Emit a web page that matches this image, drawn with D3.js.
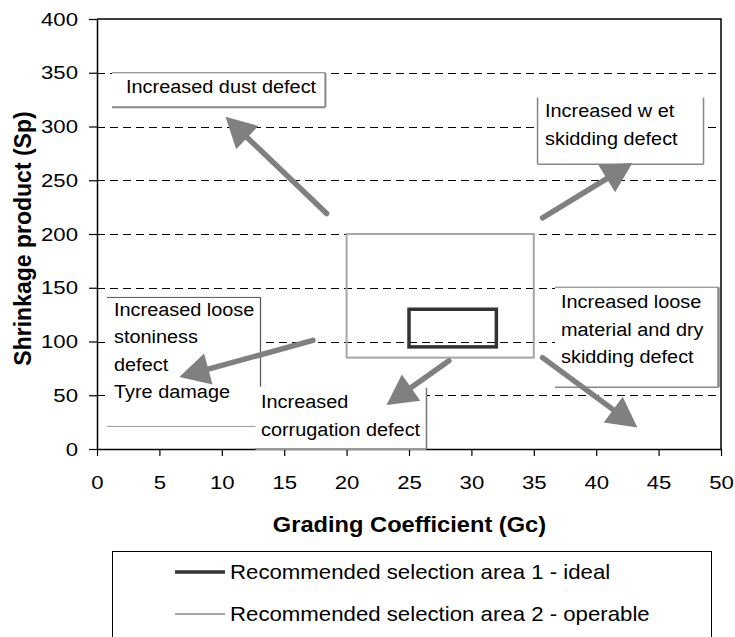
<!DOCTYPE html>
<html>
<head>
<meta charset="utf-8">
<script src="https://cdn.jsdelivr.net/npm/d3@7"></script>
<style>
  body { margin: 0; background: #fff; }
  svg { display: block; font-family: "Liberation Sans", Arial, sans-serif; }
</style>
</head>
<body>
<svg width="735" height="637"></svg>
<script>
'use strict'

// axis ticks
var xTicks = [0, 5, 10, 15, 20, 25, 30, 35, 40, 45, 50];
var yTicks = [0, 50, 100, 150, 200, 250, 300, 350, 400];
var gridValues = [50, 100, 150, 200, 250, 300, 350];

// recommended selection areas (Gc range, Sp range)
var areaNames = ["Recommended selection area 1 - ideal", "Recommended selection area 2 - operable"];
var areaGc = [[25, 32], [20, 35]];
var areaSp = [[95, 130], [85, 200]];
var areaColours = ["#333333", "#a6a6a6"];

// defect arrows: from -> to, in Gc / Sp units
var arrowFrom = [[18.4, 219], [35.7, 215], [17.3, 101], [28.2, 82], [35.7, 85]];
var arrowTo = [[10.3, 309], [42.9, 266], [6.6, 67], [23.2, 41], [43.3, 20]];

// defect text boxes: [Gc left, Gc right], [Sp top, Sp bottom]
var boxGc = [[1.2, 18.3], [35.3, 48.6], [0.8, 13.1], [12.7, 26.4], [36.7, 49.8]];
var boxSp = [[350, 318], [327, 265], [141, 21], [57, 0], [150.5, 57.5]];
var boxLines = [
  ["Increased dust defect"],
  ["Increased w et", "skidding defect"],
  ["Increased loose", "stoniness", "defect", "Tyre damage"],
  ["Increased", "corrugation defect"],
  ["Increased loose", "material and dry", "skidding defect"]
];

var svg = d3.select("svg"),
  margin = {top: 19, right: 14, bottom: 188, left: 97},
  width = +svg.attr("width") - margin.left - margin.right,
  height = +svg.attr("height") - margin.top - margin.bottom;

var x = d3.scaleLinear().domain([0, 50]).range([margin.left, margin.left + width]);
var y = d3.scaleLinear().domain([0, 400]).range([margin.top + height, margin.top]);

// the original picture is a little wider than tall, so text is widened
function stretch(sel, k) {
  sel.each(function() {
    var w = this.getComputedTextLength();
    this.setAttribute("textLength", w * k);
    this.setAttribute("lengthAdjust", "spacingAndGlyphs");
  });
}

// dashed grid
svg.append("g")
  .selectAll("line")
  .data(gridValues)
  .enter()
  .append("line")
  .attr("x1", x(0))
  .attr("x2", x(50))
  .attr("y1", function(d) { return Math.round(y(d)) + 0.5; })
  .attr("y2", function(d) { return Math.round(y(d)) + 0.5; })
  .attr("stroke", "#000")
  .attr("stroke-dasharray", "8,5");

// text boxes (white, covering the grid)
var boxes = svg.append("g").selectAll("g")
  .data(boxLines)
  .enter()
  .append("g");

boxes.append("rect")
  .attr("x", function(d, i) { return x(boxGc[i][0]); })
  .attr("y", function(d, i) { return y(boxSp[i][0]); })
  .attr("width", function(d, i) { return x(boxGc[i][1]) - x(boxGc[i][0]); })
  .attr("height", function(d, i) { return y(boxSp[i][1]) - y(boxSp[i][0]); })
  .attr("fill", "#fff");

// box borders, which sides are drawn differs from box to box
var boxSides = [
  [["top", "#777", 1], ["right", "#888", 2], ["bottom", "#888", 2]],
  [["left", "#888", 1.5], ["right", "#888", 1.5], ["bottom", "#888", 1.5]],
  [["top", "#555", 1], ["right", "#555", 1.2, 58], ["bottom", "#999", 1]],
  [["right", "#777", 1.5], ["bottom", "#999", 2]],
  [["top", "#777", 1], ["right", "#888", 2.5], ["bottom", "#888", 1.5]]
];

boxes.each(function(d, i) {
  var g = d3.select(this);
  var l = x(boxGc[i][0]), r = x(boxGc[i][1]), t = y(boxSp[i][0]), b = y(boxSp[i][1]);
  boxSides[i].forEach(function(s) {
    var c = {top: [l, t, r, t], bottom: [l, b, r, b], left: [l, t, l, b], right: [r, t, r, b]}[s[0]];
    if (s[3] !== undefined) c[3] = y(s[3]);
    g.append("line")
      .attr("x1", c[0]).attr("y1", c[1]).attr("x2", c[2]).attr("y2", c[3])
      .attr("stroke", s[1])
      .attr("stroke-width", s[2]);
  });
});

var textStart = [[126, 92.5], [545, 116.5], [114, 316], [261, 408], [561, 308]];
var lineStep = [28, 28, 27.3, 28, 27.5];

boxes.each(function(d, i) {
  d3.select(this).selectAll("text")
    .data(d)
    .enter()
    .append("text")
    .attr("x", textStart[i][0])
    .attr("y", function(t, j) { return textStart[i][1] + j * lineStep[i]; })
    .attr("font-size", 17.6)
    .attr("fill", "#000")
    .text(function(t) { return t; })
    .call(stretch, 1.13);
});

// selection areas
svg.append("g")
  .selectAll("rect")
  .data(areaNames)
  .enter()
  .append("rect")
  .attr("x", function(d, i) { return x(areaGc[i][0]); })
  .attr("y", function(d, i) { return y(areaSp[i][1]); })
  .attr("width", function(d, i) { return x(areaGc[i][1]) - x(areaGc[i][0]); })
  .attr("height", function(d, i) { return y(areaSp[i][0]) - y(areaSp[i][1]); })
  .attr("fill", "none")
  .attr("stroke", function(d, i) { return areaColours[i]; })
  .attr("stroke-width", function(d, i) { return i === 0 ? 3.5 : 2; });

// arrows
var headLen = 30, headHalf = 16;
var arrows = svg.append("g").selectAll("g")
  .data(arrowFrom)
  .enter()
  .append("g");

arrows.each(function(d, i) {
  var x0 = x(d[0]), y0 = y(d[1]), x1 = x(arrowTo[i][0]), y1 = y(arrowTo[i][1]);
  var len = Math.hypot(x1 - x0, y1 - y0);
  var ux = (x1 - x0) / len, uy = (y1 - y0) / len;
  var bx = x1 - ux * headLen, by = y1 - uy * headLen;
  var g = d3.select(this);
  g.append("line")
    .attr("x1", x0).attr("y1", y0)
    .attr("x2", bx + ux * 2).attr("y2", by + uy * 2)
    .attr("stroke", "#808080")
    .attr("stroke-width", 5.5)
    .attr("stroke-linecap", "round");
  g.append("path")
    .attr("d", "M" + x1 + "," + y1 +
      "L" + (bx - uy * headHalf) + "," + (by + ux * headHalf) +
      "L" + (bx + uy * headHalf) + "," + (by - ux * headHalf) + "Z")
    .attr("fill", "#808080");
});

// plot frame (top and right)
svg.append("path")
  .attr("d", "M" + x(0) + "," + y(400) + "H" + x(50) + "V" + y(0))
  .attr("fill", "none")
  .attr("stroke", "#000")
  .attr("stroke-width", 1.5);

var xAxis = d3.axisBottom(x).tickValues(xTicks).tickSize(7).tickSizeOuter(0).tickPadding(19);
var yAxis = d3.axisLeft(y).tickValues(yTicks).tickSize(8).tickSizeOuter(0).tickPadding(11);

var gx = svg.append("g")
  .attr("transform", "translate(0," + y(0) + ")")
  .call(xAxis);
var gy = svg.append("g")
  .attr("transform", "translate(" + x(0) + ",0)")
  .call(yAxis);

[gx, gy].forEach(function(g) {
  g.select(".domain").attr("stroke", "#000").attr("stroke-width", 1.5);
  g.selectAll(".tick line").attr("stroke", "#000").attr("stroke-width", 1.2);
  g.selectAll(".tick text")
    .attr("font-size", 18.8)
    .attr("font-family", "Liberation Sans, Arial, sans-serif")
    .attr("fill", "#000")
    .call(stretch, 1.18);
});
gx.selectAll(".tick text").attr("dy", "0.72em");

// corrugation box bottom sits on the axis
svg.append("line")
  .attr("x1", x(12.7)).attr("x2", x(26.4))
  .attr("y1", y(0)).attr("y2", y(0))
  .attr("stroke", "#999")
  .attr("stroke-width", 2);

// axis titles
svg.append("text")
  .attr("x", (x(0) + x(50)) / 2 + 0.5)
  .attr("y", 532)
  .attr("text-anchor", "middle")
  .attr("font-size", 21.5)
  .attr("font-weight", "bold")
  .text("Grading Coefficient (Gc)")
  .call(stretch, 1.1);

svg.append("text")
  .attr("transform", "translate(31," + ((y(0) + y(400)) / 2 + 4.5) + ") rotate(-90)")
  .attr("text-anchor", "middle")
  .attr("font-size", 23)
  .attr("font-weight", "bold")
  .text("Shrinkage product (Sp)");

// legend
var legend = svg.append("g");
legend.append("rect")
  .attr("x", 112.5).attr("y", 551.5)
  .attr("width", 599).attr("height", 90)
  .attr("fill", "#fff")
  .attr("stroke", "#000")
  .attr("stroke-width", 1);

var items = legend.selectAll(".item")
  .data(areaNames)
  .enter()
  .append("g")
  .attr("class", "item")
  .attr("transform", function(d, i) { return "translate(0," + (572 + i * 42) + ")"; });

items.append("line")
  .attr("x1", 175).attr("x2", 225)
  .attr("stroke", function(d, i) { return areaColours[i]; })
  .attr("stroke-width", function(d, i) { return i === 0 ? 3.5 : 2; });

items.append("text")
  .attr("x", 230)
  .attr("dy", "0.36em")
  .attr("font-size", 20.2)
  .text(function(d) { return d; })
  .call(stretch, 1.1);
</script>
</body>
</html>
